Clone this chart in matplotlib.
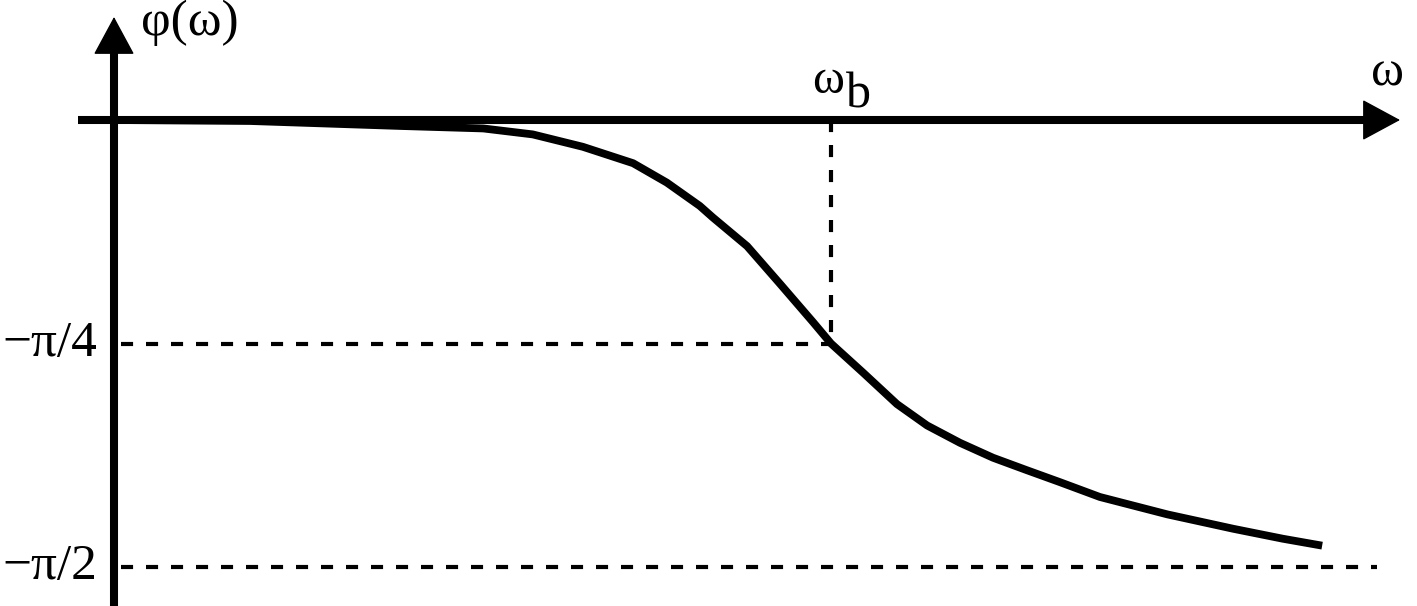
import numpy as np
import matplotlib
matplotlib.use('Agg')
import matplotlib.pyplot as plt

# phase response (omega in units of omega_b, phi in degrees)
omega = [0.0, 0.190, 0.399, 0.515, 0.584, 0.654, 0.724, 0.771, 0.817, 0.835,
         0.883, 0.929, 0.975, 1.0, 1.045, 1.092, 1.134, 1.180, 1.226, 1.273,
         1.319, 1.375, 1.469, 1.561, 1.630, 1.685]
phi_deg = [0.0, -0.2, -1.2, -1.7, -2.9, -5.4, -8.7, -12.6, -17.3, -19.6,
           -25.4, -33.0, -40.7, -45.0, -50.9, -57.2, -61.5, -65.0, -68.0, -70.5,
           -72.9, -75.9, -79.4, -82.3, -84.3, -85.7]

ref_levels = [-45.0, -90.0]
ref_labels = ['\u2212\u03c0/4', '\u2212\u03c0/2']
omega_b = 1.0

SERIF = ['Liberation Serif', 'DejaVu Serif']

fig = plt.figure(figsize=(14.17, 6.06), dpi=100)
ax = fig.add_axes([0, 0, 1, 1])
ax.set_xlim(-0.159, 1.8173)
ax.set_ylim(-97.85, 24.16)
ax.axis('off')

# coordinate axes
x_end, y_end = 1.7936, 20.74
ax.plot([-0.0502, x_end - 0.04], [0, 0], color='k', lw=5.8, solid_capstyle='butt', zorder=3)
ax.plot([0, 0], [-100, y_end - 5], color='k', lw=5.8, solid_capstyle='butt', zorder=3)
arrow = dict(arrowstyle='-|>,head_length=2.5,head_width=1.35', mutation_scale=10,
             color='k', lw=1, shrinkA=0, shrinkB=0)
ax.annotate('', xy=(x_end, 0), xytext=(x_end - 0.06, 0), arrowprops=arrow, zorder=4)
ax.annotate('', xy=(0, y_end), xytext=(0, y_end - 9), arrowprops=arrow, zorder=4)

# dashed guide lines
dash = (0, (2.9, 3.1))
ax.plot([0.01, omega_b], [ref_levels[0]] * 2, color='k', lw=3, linestyle=dash)
ax.plot([0.01, 1.762], [ref_levels[1]] * 2, color='k', lw=3, linestyle=dash)
ax.plot([omega_b, omega_b], [0, ref_levels[0]], color='k', lw=3, linestyle=dash)

# phase curve
ax.plot(omega, phi_deg, color='k', lw=5.6, solid_joinstyle='round',
        solid_capstyle='butt', zorder=5)

# labels
for lvl, lab in zip(ref_levels, ref_labels):
    ax.text(-0.024, lvl, lab, ha='right', va='center', fontsize=37, family=SERIF)
ax.text(0.038, 19.6, '\u03c6(\u03c9)', ha='left', va='center', fontsize=37, family=SERIF)
ax.text(1.7755, 9.5, '\u03c9', ha='center', va='center', fontsize=36, family=SERIF)
ax.text(1.018, 5.4, '\u03c9', ha='right', va='baseline', fontsize=35, family=SERIF)
ax.text(1.021, 2.6, 'b', ha='left', va='baseline', fontsize=36, family=SERIF)

fig.savefig('out.png', dpi=100)
